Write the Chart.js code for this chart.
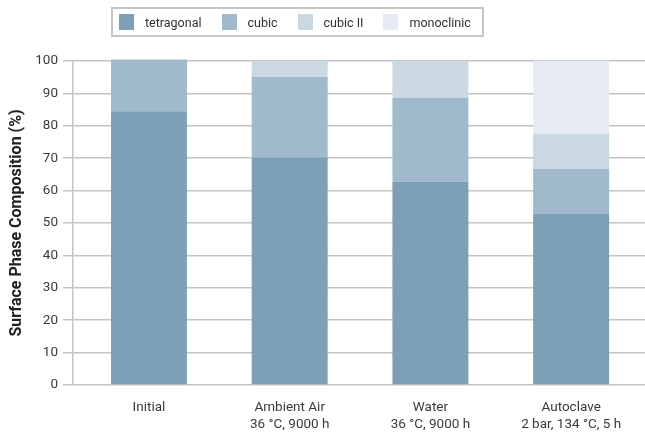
<!DOCTYPE html>
<html>
<head>
<meta charset="utf-8">
<script src="https://cdn.jsdelivr.net/npm/chart.js@4.4.1/dist/chart.umd.min.js"></script>
<style>
  html, body { margin: 0; padding: 0; background: #fff; }
  #wrap { position: relative; width: 645px; height: 434px; }
  #legend {
    position: absolute; left: 111px; top: 7px; width: 363px; height: 26px;
    border: 2px solid #c6c6c6; display: flex; align-items: center;
    padding-left: 6px; box-sizing: content-box; white-space: nowrap;
    font: 12.5px Roboto, sans-serif; color: #333;
  }
  #legend .item { display: flex; align-items: center; margin-right: 20px; }
  #legend .box { width: 15px; height: 16px; margin-right: 11px; }
</style>
</head>
<body>
<div id="wrap">
  <canvas id="chart" width="645" height="434"></canvas>
  <div id="legend"></div>
</div>
<script>
var categories = [
  "Initial",
  ["Ambient Air", "36 °C, 9000 h"],
  ["Water", "36 °C, 9000 h"],
  ["Autoclave", "2 bar, 134 °C, 5 h"]
];
var tetragonal = [84.5, 70.2, 62.7, 52.8];
var cubic      = [16.0, 24.9, 25.9, 13.9];
var cubicII    = [null, 5.0, 11.5, 10.8];
var monoclinic = [null, null, null, 22.6];
var seriesNames = ["tetragonal", "cubic", "cubic II", "monoclinic"];
var colors = ["#7ea0b7", "#a0bacc", "#cad8e2", "#e6ebf3"];

var FONT = 'Roboto, sans-serif';

var series = [tetragonal, cubic, cubicII, monoclinic];
var datasets = series.map(function (values, i) {
  return {
    label: seriesNames[i],
    data: values,
    backgroundColor: colors[i],
    borderWidth: 0,
    clip: false,
    categoryPercentage: 1,
    barPercentage: 0.54
  };
});

// legend in a bordered box, built from the datasets
var legendEl = document.getElementById('legend');
datasets.forEach(function (ds) {
  var item = document.createElement('div');
  item.className = 'item';
  item.innerHTML = '<span class="box" style="background:' + ds.backgroundColor + '"></span><span>' + ds.label + '</span>';
  legendEl.appendChild(item);
});

// bars sit slightly inside the y axis line
var shiftX = {
  id: 'shiftX',
  afterLayout: function (chart) {
    var x = chart.scales.x;
    x.left = 78.6;
    x.right = 641.5;
    x.width = x.right - x.left;
    x.configure();
  }
};

new Chart(document.getElementById('chart').getContext('2d'), {
  type: 'bar',
  data: { labels: categories, datasets: datasets },
  plugins: [shiftX],
  options: {
    responsive: false,
    animation: false,
    devicePixelRatio: 1,
    layout: { padding: { top: 61, left: 0, right: 0, bottom: 0 } },
    plugins: { legend: { display: false }, tooltip: { enabled: false } },
    scales: {
      x: {
        stacked: true,
        grid: { display: false, drawTicks: false },
        border: { display: false },
        ticks: { color: '#3a3a3a', font: { family: FONT, size: 13.5 }, padding: 15, maxRotation: 0 },
        afterFit: function (s) { s.height = 49; }
      },
      y: {
        stacked: true,
        min: 0, max: 100,
        ticks: { stepSize: 10, color: '#3a3a3a', font: { family: FONT, size: 13.5 }, padding: 5 },
        grid: { color: '#c4c4c4', lineWidth: 1.5, tickLength: 10 },
        border: { display: true, color: '#c4c4c4', width: 1.5 },
        title: {
          display: true,
          text: 'Surface Phase Composition (%)',
          color: '#222',
          font: { family: FONT, size: 16, weight: 'bold' },
          padding: { top: 7, bottom: 0 }
        },
        afterFit: function (s) { s.width = 73; }
      }
    }
  }
});
</script>
</body>
</html>
